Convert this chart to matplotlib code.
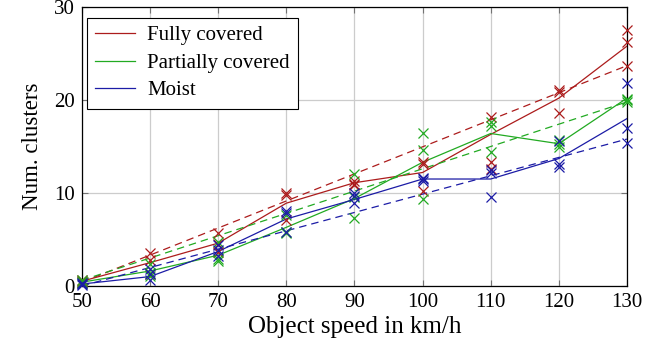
import numpy as np
from matplotlib import pyplot as plt

plt.rcParams['font.family'] = ['Liberation Serif', 'DejaVu Serif']
plt.rcParams['mathtext.fontset'] = 'stix'

speeds = [50, 60, 70, 80, 90, 100, 110, 120, 130]
series_names = ["Fully covered", "Partially covered", "Moist"]
colors = ['#ac1c1c', '#22aa22', '#1c1ca6']

# mean number of clusters per speed (solid lines)
mean_full = [0.5, 2.5, 4.6, 8.9, 11.1, 12.2, 16.3, 20.2, 25.8]
mean_partial = [0.4, 1.6, 3.3, 6.3, 9.4, 13.3, 16.4, 15.3, 20.2]
mean_moist = [0.2, 1.0, 3.7, 7.2, 9.3, 11.5, 11.5, 13.7, 18.0]

# linear trend (dashed lines), values at 50 and 130 km/h
trend_x = [50, 130]
trend_full = [0.4, 23.7]
trend_partial = [0.6, 19.8]
trend_moist = [0.0, 15.8]

# single measurements (x markers), three runs per speed
runs_full = [[0.5, 0.4, 0.6], [3.5, 2.8, 1.3], [5.7, 4.5, 3.6], [10.0, 9.8, 7.1],
             [11.3, 10.9, 11.0], [13.3, 13.1, 10.2], [18.2, 13.3, 12.6],
             [21.1, 20.9, 18.6], [27.5, 26.2, 23.7]]
runs_partial = [[0.6, 0.4, 0.3], [2.4, 1.4, 1.1], [4.7, 2.9, 2.7], [7.6, 5.8, 5.7],
                [12.0, 9.6, 7.3], [16.5, 14.6, 9.3], [17.6, 17.2, 14.4],
                [15.7, 15.3, 14.9], [20.0, 19.8, 20.1]]
runs_moist = [[0.3, 0.2, 0.1], [1.8, 1.3, 0.6], [4.4, 3.9, 3.2], [8.1, 7.8, 5.8],
              [10.0, 9.7, 8.9], [11.6, 11.3, 11.5], [12.5, 12.1, 9.6],
              [15.6, 13.1, 12.8], [21.8, 17.0, 15.4]]

means = [mean_full, mean_partial, mean_moist]
trends = [trend_full, trend_partial, trend_moist]
runs = [runs_full, runs_partial, runs_moist]

fig = plt.figure(figsize=(6.45, 3.56), dpi=100)
ax = fig.add_axes([0.127, 0.197, 0.845, 0.783])

for name, c, m, t, r in zip(series_names, colors, means, trends, runs):
    ax.plot(speeds, m, color=c, lw=0.9, label=name, zorder=3)
    ax.plot(trend_x, t, color=c, lw=0.9, ls=(0, (6, 4)), zorder=3)
    for s, vals in zip(speeds, r):
        ax.plot([s] * len(vals), vals, ls='none', marker='x', ms=7, mew=0.9,
                color=c, zorder=4, clip_on=False)

ax.set_xlim(50, 130)
ax.set_ylim(0, 30)
ax.set_xticks(speeds)
ax.set_yticks([0, 10, 20, 30])
ax.grid(True, color='#cccccc', lw=0.9)
ax.set_axisbelow(True)
ax.tick_params(direction='in', top=True, right=True, length=4, width=0.8,
               color='0.45', labelsize=15, pad=5)
for sp in ax.spines.values():
    sp.set_linewidth(0.9)

ax.set_xlabel("Object speed in km/h", fontsize=18, labelpad=3)
ax.set_ylabel("Num. clusters", fontsize=16.5, labelpad=8)

leg = ax.legend(loc='upper left', fontsize=15, frameon=True, fancybox=False,
                edgecolor='black', framealpha=1, handlelength=1.9,
                borderpad=0.4, labelspacing=0.38, handletextpad=0.6,
                bbox_to_anchor=(-0.01, 1.0))
leg.get_frame().set_linewidth(0.8)

plt.savefig('out.png', dpi=100)
